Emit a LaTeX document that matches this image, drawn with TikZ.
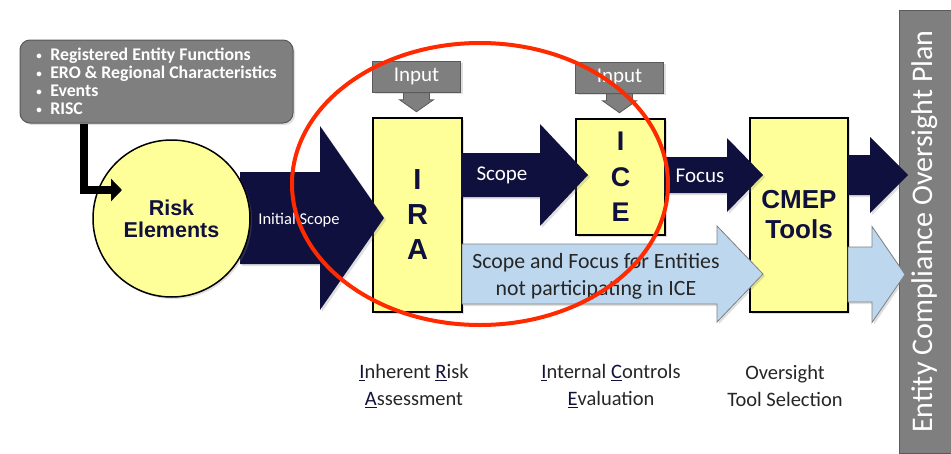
\documentclass[tikz,border=0pt]{standalone}
\usepackage{fontspec}
\setmainfont{Carlito}
\newfontfamily\arialfont{Liberation Sans}
\usetikzlibrary{arrows.meta,positioning,shadows,calc}
\definecolor{navy}{HTML}{10103F}
\definecolor{paleyellow}{HTML}{FFFF99}
\definecolor{boxgray}{HTML}{7F7F7F}
\definecolor{edgegray}{HTML}{5A5A5A}
\definecolor{paleblue}{HTML}{BDD7EE}
\definecolor{markred}{HTML}{FF2A00}
\definecolor{labelgray}{HTML}{262626}
% block arrow: style, x start, x head, x tip, y centre, shaft half, head half
\newcommand{\fatarrow}[7]{%
  \path[#1] (#2,{#5-#6}) -- (#3,{#5-#6}) -- (#3,{#5-#7}) -- (#4,#5)
    -- (#3,{#5+#7}) -- (#3,{#5+#6}) -- (#2,{#5+#6}) -- cycle;}
\newcommand{\keyletter}[1]{\textcolor{navy}{\underline{#1}}}
\newcommand{\infobullet}{\makebox[14pt][l]{\raisebox{1pt}{\fontsize{11}{11}\selectfont\textbullet}}}

\begin{document}
\begin{tikzpicture}[x=1pt, y=-1pt,
    softshadow/.style={drop shadow={opacity=0.25, shadow xshift=2pt, shadow yshift=-2pt}},
    stagebox/.style={draw=black, line width=1.5pt, fill=paleyellow, text=navy,
      font=\arialfont\bfseries, align=center, inner sep=0pt, softshadow},
    graybox/.style={draw=edgegray, line width=1pt, fill=boxgray, text=white, softshadow},
    navyarrow/.style={fill=navy, softshadow},
    bluearrow/.style={fill=paleblue, draw=gray, line width=0.8pt, softshadow},
    feed/.style={line width=8pt, -{Triangle[length=11pt, width=22pt]}},
    stagelabel/.style={text=labelgray, font=\fontsize{20.5}{27}\selectfont, align=center}
  ]
  \useasboundingbox (0,0) rectangle (951,453);

  % output plan bar
  \node[graybox, minimum width=52pt, minimum height=443pt] (plan) at (925,231.5) {};
  \node[rotate=90, text=white, font=\fontsize{30}{30}\selectfont] (plantext) at (plan.center) {Entity Compliance Oversight Plan};

  % stages
  \node[stagebox, minimum width=89pt, minimum height=194pt, font=\arialfont\bfseries\fontsize{29}{35}\selectfont] (ira) at (417.5,215) {I\\R\\A};
  \node[stagebox, minimum width=89pt, minimum height=116pt, font=\arialfont\bfseries\fontsize{27}{35.5}\selectfont] (ice) at (620.5,177) {I\\C\\E};
  \node[stagebox, minimum width=98pt, minimum height=194pt, font=\arialfont\bfseries\fontsize{26}{30}\selectfont] (cmep) at (799,215) {CMEP\\Tools};

  % flows
  \fatarrow{navyarrow}{240}{320}{384}{218}{46}{92}
  \fatarrow{navyarrow}{461}{540}{588}{175}{22}{51}
  \fatarrow{navyarrow}{664}{727}{763}{175}{18}{37}
  \fatarrow{navyarrow}{848}{870}{908}{175}{20}{38}
  \fatarrow{bluearrow}{462}{717}{763}{274}{30}{48}
  \fatarrow{bluearrow}{848}{872}{905}{274.5}{27.5}{48}

  \node[text=white, font=\fontsize{16.5}{20}\selectfont] (initlabel) at (299,220) {Initial Scope};
  \node[text=white, font=\fontsize{21}{25}\selectfont] (scopelabel) at (502,175) {Scope};
  \node[text=white, font=\fontsize{21}{25}\selectfont] (focuslabel) at (700,176) {Focus};
  \node[text=labelgray, align=center, font=\fontsize{21.8}{27}\selectfont] (bypass) at (596,276)
    {Scope and Focus for Entities\\not participating in ICE};

  % risk elements
  \node[circle, draw=black, line width=1.5pt, fill=paleyellow, minimum size=157pt,
    text=navy, align=center, font=\arialfont\bfseries\fontsize{21.5}{22}\selectfont, softshadow] (risk) at (171.5,218.5) {Risk\\Elements};

  \node[graybox, rounded corners=10pt, minimum width=273pt, minimum height=83pt,
    align=left, inner sep=0pt, font=\bfseries\fontsize{17.8}{18}\selectfont] (info) at (156.5,81.5)
    {\infobullet Registered Entity Functions\\
     \infobullet ERO \& Regional Characteristics\\
     \infobullet Events\\
     \infobullet RISC};
  \coordinate (riskin) at (122,190);
  \draw[feed] ($(info.south west)+(64,0)$) |- (riskin);

  % inputs
  \foreach \stage/\name in {ira/inira, ice/inice} {
    \node[graybox, minimum width=88pt, minimum height=31pt, font=\fontsize{21}{25}\selectfont] (\name)
      at ($(\stage.north)+(-1,-40.5)$) {Input};
    \fill[boxgray, draw=edgegray, line width=0.8pt] ($(\name.south)+(-13,0)$) -- ++(0,7) -- ++(-4,0)
      -- ++(17,12) -- ++(17,-12) -- ++(-4,0) -- ++(0,-7) -- cycle;
  }

  % labels under the stages
  \node[stagelabel] (iralabel) at (414,386) {\keyletter{I}nherent \keyletter{R}isk\\\keyletter{A}ssessment};
  \node[stagelabel] (icelabel) at (611,386) {\keyletter{I}nternal \keyletter{C}ontrols\\\keyletter{E}valuation};
  \node[stagelabel] (cmeplabel) at (785,386) {Oversight\\Tool Selection};

  % highlight
  \draw[markred, line width=4pt] (480,184) ellipse [x radius=188pt, y radius=141pt];
\end{tikzpicture}
\end{document}
